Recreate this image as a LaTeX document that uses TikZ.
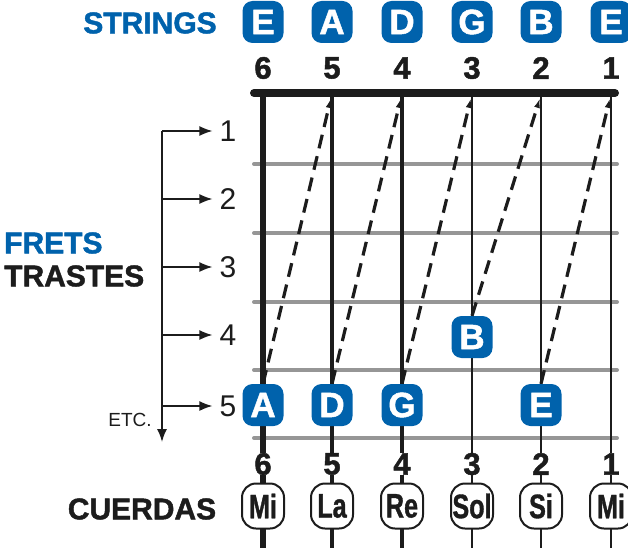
\documentclass[tikz,border=0pt]{standalone}
\usepackage{fontspec}
\setmainfont{Liberation Sans}
\newfontfamily\heavy[FakeBold=1.5]{Liberation Sans Bold}
\newfontfamily\cond[FakeStretch=0.74,FakeBold=1]{Liberation Sans Bold}
\usetikzlibrary{arrows.meta}
\definecolor{gblue}{RGB}{0,98,172}
\definecolor{ink}{RGB}{28,28,28}
\definecolor{fretgray}{RGB}{150,150,150}
\tikzset{
  bluebox/.style={fill=gblue, rounded corners=10, minimum width=41, minimum height=42, inner sep=0, text=white, font=\heavy\fontsize{35}{35}\selectfont},
  cbox/.style={draw=ink, line width=2, fill=white, rounded corners=14, minimum width=42, minimum height=45, inner sep=0, text=ink, font=\cond\fontsize{34}{34}\selectfont},
  numlab/.style={inner sep=0, fill=white, text=ink, font=\heavy\fontsize{31}{31}\selectfont},
  fretnum/.style={inner sep=0, text=ink, font=\fontsize{30}{30}\selectfont},
  biglab/.style={inner sep=0, font=\heavy\fontsize{30}{30}\selectfont},
  fretline/.style={draw=fretgray, line width=4, line cap=round},
  guidearrow/.style={draw=ink, line width=1.6, -{Latex[length=13,width=10]}},
  shiftarrow/.style={draw=ink, line width=3.2, dash pattern=on 14 off 8, -{Latex[length=10,width=6]}}
}
\begin{document}
\begin{tikzpicture}[x=1pt,y=-1pt]
\useasboundingbox (0,0) rectangle (628,548);
% frets
\foreach \y [count=\i] in {164,233,302,370,438}{
  \coordinate (fl\i) at (254,\y);
  \coordinate (fr\i) at (617,\y);
  \draw[fretline] (fl\i) -- (fr\i);
}
% strings
\foreach \x/\w [count=\i] in {263/5.5,332/4.5,402/3.2,472/2.2,541/1.8,611/1.8}{
  \coordinate (st\i) at (\x,93);
  \coordinate (sb\i) at (\x,548);
  \draw[ink, line width=\w] (st\i) -- (sb\i);
}
% nut
\coordinate (nutL) at (254,93);
\coordinate (nutR) at (615,93);
\draw[ink, line width=8, line cap=round] (nutL) -- (nutR);
% top labels
\node[biglab, text=gblue] (strings) at (150,23) {STRINGS};
\foreach \x/\l/\n in {263/E/6,332/A/5,402/D/4,472/G/3,541/B/2,611/E/1}{
  \node[bluebox] (top\n) at (\x,22) {\l};
  \node[numlab] (tn\n) at (\x,68) {\n};
}
% bottom labels
\foreach \x/\l/\n in {263/Mi/6,332/La/5,402/Re/4,472/Sol/3,541/Si/2,611/Mi/1}{
  \node[numlab] (bn\n) at (\x,464) {\n};
  \node[cbox] (cu\n) at (\x,506) {\l};
}
\node[biglab, text=ink] (cuerdas) at (142,509) {CUERDAS};
% left side
\node[biglab, text=gblue, anchor=west] (frets) at (4,243) {FRETS};
\node[biglab, text=ink, anchor=west] (trastes) at (4,276) {TRASTES};
\foreach \y [count=\i] in {131,199,267,335,406}{
  \node[fretnum] (fn\i) at (228,\y) {\i};
  \coordinate (sp\i) at (162,\y);
  \draw[guidearrow] (sp\i) -- ([xshift=-7]fn\i.west);
}
\coordinate (spEnd) at (162,442);
\draw[guidearrow] (sp1) -- (spEnd);
\node[inner sep=0, text=ink, font=\fontsize{19}{19}\selectfont] (etc) at (130,420) {ETC.};
% fretted notes
\node[bluebox] (fA) at (263,405) {A};
\node[bluebox] (fD) at (332,405) {D};
\node[bluebox] (fG) at (402,405) {G};
\node[bluebox] (fB) at (472,337) {B};
\node[bluebox] (fE) at (541,405) {E};
\foreach \x [count=\i] in {331,401,471,540,610}{
  \coordinate (up\i) at (\x,98);
}
\draw[shiftarrow] (fA.north) -- (up1);
\draw[shiftarrow] (fD.north) -- (up2);
\draw[shiftarrow] (fG.north) -- (up3);
\draw[shiftarrow] (fB.north) -- (up4);
\draw[shiftarrow] (fE.north) -- (up5);
\end{tikzpicture}
\end{document}
